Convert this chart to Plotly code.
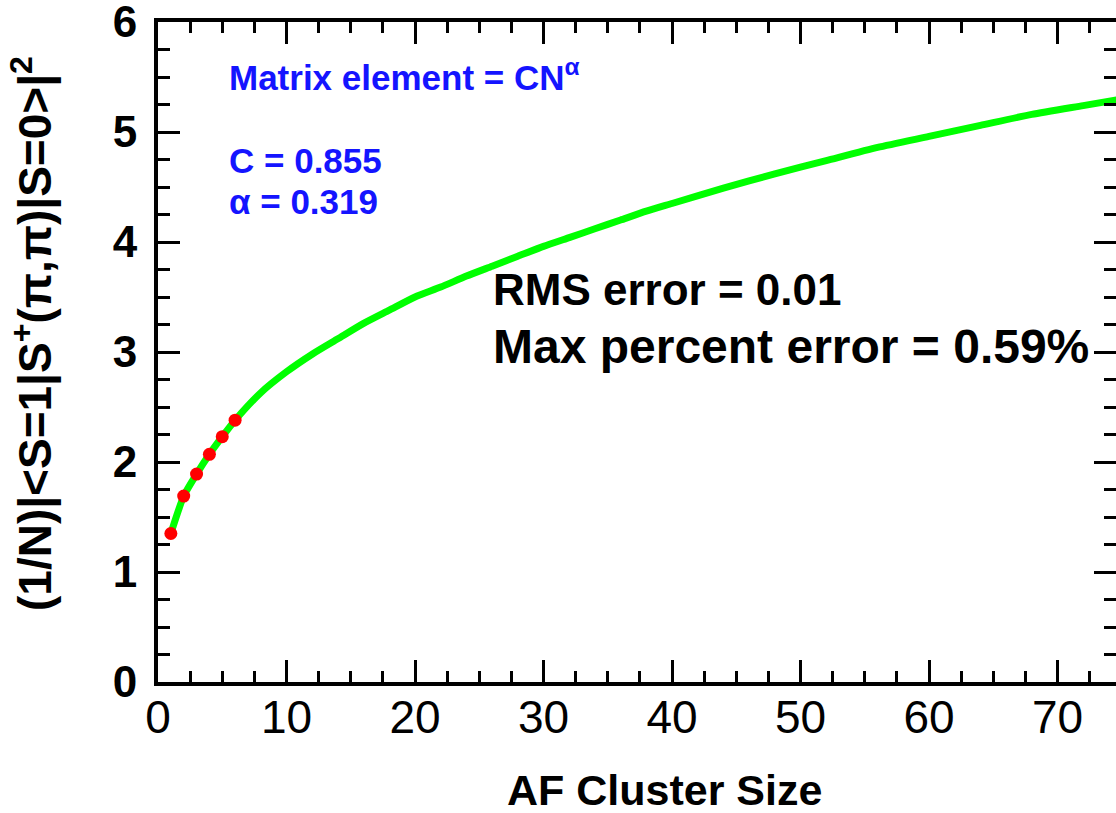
import plotly.graph_objects as go

# Data
cluster_size_pts = [1, 2, 3, 4, 5, 6]
matrix_elem_pts = [1.35, 1.69, 1.89, 2.07, 2.23, 2.38]

fit_size = [1, 2, 3, 4, 5, 6, 8, 10, 12, 14, 16, 18, 20, 22, 24, 26, 28, 30,
            32, 34, 36, 38, 40, 44, 48, 52, 56, 60, 64, 68, 72, 75]
fit_vals = [1.35, 1.69, 1.89, 2.07, 2.23, 2.38, 2.63, 2.82, 2.98, 3.12, 3.26,
            3.38, 3.50, 3.59, 3.69, 3.78, 3.87, 3.96, 4.04, 4.12, 4.20, 4.28,
            4.35, 4.49, 4.62, 4.74, 4.86, 4.96, 5.06, 5.16, 5.24, 5.30]

x_ticks = [0, 10, 20, 30, 40, 50, 60, 70]
y_ticks = [0, 1, 2, 3, 4, 5, 6]

FONT = "Liberation Sans, Arial, Helvetica, sans-serif"
W, H = 1116, 813
L, R, T, B = 158, 0, 22, 131
PW = W - L - R
PH = H - T - B


def px(xp):
    return (xp - L) / PW


def py(yp):
    return (H - B - yp) / PH


fig = go.Figure()
fig.add_trace(go.Scatter(
    x=fit_size, y=fit_vals, mode="lines",
    line=dict(color="rgb(0,255,0)", width=7, shape="spline", smoothing=0.6),
    showlegend=False, hoverinfo="skip"))
fig.add_trace(go.Scatter(
    x=cluster_size_pts, y=matrix_elem_pts, mode="markers",
    marker=dict(color="rgb(255,0,0)", size=13, line=dict(width=0)),
    showlegend=False))
# invisible trace to activate the right-side tick axis
fig.add_trace(go.Scatter(x=[None], y=[None], yaxis="y2", showlegend=False))

fig.update_layout(
    width=W, height=H,
    margin=dict(l=L, r=R, t=T, b=B, autoexpand=False),
    paper_bgcolor="white", plot_bgcolor="white",
    font=dict(family=FONT, color="black"),
    xaxis=dict(
        range=[0, PW / 12.85], tickvals=x_ticks, automargin=False,
        showgrid=False, zeroline=False,
        showline=True, linecolor="black", linewidth=4, mirror="ticks",
        ticks="inside", ticklen=22, tickwidth=3, tickcolor="black",
        minor=dict(dtick=2.5, ticks="inside", ticklen=11, tickwidth=3, tickcolor="black"),
        tickfont=dict(family=FONT, size=46, color="black"),
        ticklabelstandoff=-8, ticklabeloverflow="allow",
    ),
    yaxis=dict(
        range=[0, 6], tickvals=y_ticks, automargin=False,
        showgrid=False, zeroline=False,
        showline=True, linecolor="black", linewidth=4, mirror=False,
        ticks="inside", ticklen=22, tickwidth=3, tickcolor="black",
        minor=dict(dtick=0.25, ticks="inside", ticklen=12, tickwidth=3, tickcolor="black"),
        tickfont=dict(family=FONT, size=44, color="black", weight="bold"),
        ticklabelstandoff=8, ticklabeloverflow="allow",
    ),
    yaxis2=dict(
        range=[0, 6], tickvals=y_ticks, overlaying="y", side="right",
        automargin=False,
        showgrid=False, zeroline=False, showline=False, showticklabels=False,
        ticks="inside", ticklen=22, tickwidth=3, tickcolor="black",
        minor=dict(dtick=0.25, ticks="inside", ticklen=12, tickwidth=3, tickcolor="black"),
    ),
)

blue = "rgb(20,20,255)"
ann = [
    dict(text="Matrix element = CN<sup>α</sup>", x=px(227), y=py(75),
         font=dict(size=35, color=blue, weight="bold")),
    dict(text="C = 0.855", x=px(227), y=py(160),
         font=dict(size=35, color=blue, weight="bold")),
    dict(text="α = 0.319", x=px(227), y=py(201),
         font=dict(size=35, color=blue, weight="bold")),
    dict(text="RMS error = 0.01", x=px(491), y=py(290),
         font=dict(size=44, color="black", weight="bold")),
    dict(text="Max percent error = 0.59%", x=px(491), y=py(346),
         font=dict(size=48, color="black", weight="bold")),
]
for a in ann:
    fig.add_annotation(xref="paper", yref="paper", xanchor="left", yanchor="middle",
                       showarrow=False, x=a["x"], y=a["y"], text=a["text"],
                       font=dict(family=FONT, **a["font"]))

fig.add_annotation(
    xref="paper", yref="paper", x=px(664), y=py(790),
    xanchor="center", yanchor="middle", showarrow=False,
    text="AF Cluster Size",
    font=dict(family=FONT, size=43, color="black", weight="bold"))

fig.add_annotation(
    xref="paper", yref="paper", x=px(32), y=py(334),
    xanchor="center", yanchor="middle", showarrow=False, textangle=-90,
    text="(1/N)|&lt;S=1|S<sup>+</sup>(π,π)|S=0&gt;|<sup>2</sup>",
    font=dict(family=FONT, size=46, color="black", weight="bold"))

fig.write_html("out.html",
               config={"displayModeBar": False},
               post_script="document.body.style.margin='0px';"
                           "document.body.style.overflow='hidden';")
